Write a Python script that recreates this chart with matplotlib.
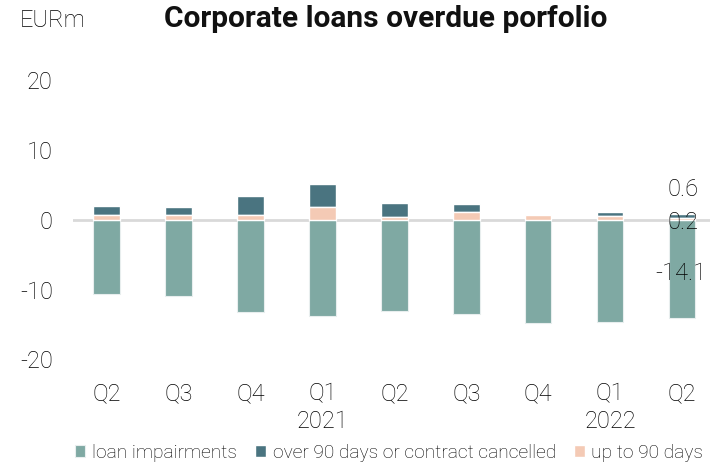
import matplotlib
matplotlib.use("Agg")
import matplotlib.pyplot as plt
import numpy as np

quarters = ["Q2", "Q3", "Q4", "Q1\n2021", "Q2", "Q3", "Q4", "Q1\n2022", "Q2"]
loan_impairments = [-10.7, -10.9, -13.2, -13.8, -13.0, -13.5, -14.8, -14.6, -14.1]
up_to_90 = [0.7, 0.6, 0.6, 1.8, 0.4, 1.1, 0.6, 0.5, 0.2]
over_90 = [1.2, 1.2, 2.7, 3.3, 2.0, 1.05, 0.0, 0.6, 0.6]

c_loan = "#7fa9a3"
c_over = "#4a7480"
c_up = "#f4cab5"
txt = "#000000"

plt.rcParams['font.family'] = ['Roboto', 'DejaVu Sans']
fig = plt.figure(figsize=(7.1, 4.67), dpi=100)
ax = fig.add_axes([73/710, 1 - 359.5/467, 1 - 73/710, 280/467])

x = np.arange(len(quarters))
w = 0.37
ax.bar(x, loan_impairments, w, color=c_loan, edgecolor="#e8eeee", linewidth=0.8, label="loan impairments", zorder=3)
ax.bar(x, over_90, w, bottom=up_to_90, color=c_over, edgecolor="white", linewidth=1.0, label="over 90 days or contract cancelled", zorder=3)
ax.bar(x, up_to_90, w, color=c_up, edgecolor="white", linewidth=1.0, label="up to 90 days", zorder=3)
ax.axhline(0, color="#d9d9d9", linewidth=2, zorder=2)

ax.set_xlim(-0.47, 8.39)
ax.set_ylim(-20, 20)
ax.set_yticks([-20, -10, 0, 10, 20])
ax.set_yticklabels(["-20", "-10", "0", "10", "20"])
ax.set_xticks(x)
ax.set_xticklabels(quarters, linespacing=1.3)
ax.tick_params(axis="both", length=0, labelsize=17, colors=txt)
ax.tick_params(axis="y", pad=14.5)
ax.tick_params(axis="x", pad=16)
for lbl in ax.get_xticklabels() + ax.get_yticklabels():
    lbl.set_fontweight("light")
for s in ax.spines.values():
    s.set_visible(False)

last = len(quarters) - 1
lab_kw = dict(textcoords="offset points", ha="right", va="center", fontsize=17, fontweight="light", color=txt)
ax.annotate(f"{over_90[last]:.1f}", (last, up_to_90[last] + over_90[last] / 2), xytext=(12, 19), **lab_kw)
ax.annotate(f"{up_to_90[last]:.1f}", (last, up_to_90[last] / 2), xytext=(12, -3), **lab_kw)
ax.annotate(f"{loan_impairments[last]:.1f}", (last, loan_impairments[last] / 2), xytext=(17.5, -3), **lab_kw)

fig.text(20/710, 1 - 20/467, "EURm", ha="left", va="center", fontsize=17, fontweight="light", color=txt)
fig.text(386/710, 1 - 19/467, "Corporate loans overdue porfolio", ha="center", va="center",
         fontsize=21.5, fontweight="bold", color="#111111")

handles, labels = ax.get_legend_handles_labels()
fig.legend(handles, labels, loc="center", bbox_to_anchor=(389/710, 1 - 453/467), ncol=3, frameon=False,
           handlelength=0.55, handleheight=0.55, handletextpad=0.35, columnspacing=0.95,
           borderpad=0.1, prop={"weight": "light", "size": 13.8})

fig.savefig("out.png", dpi=100)
